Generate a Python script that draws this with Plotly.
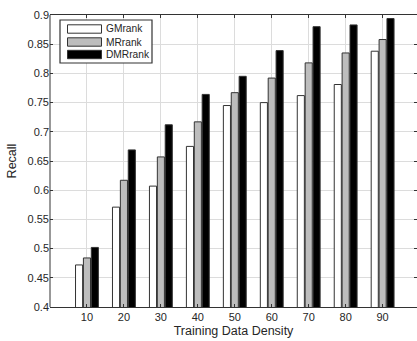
import plotly.graph_objects as go

density = [10, 20, 30, 40, 50, 60, 70, 80, 90]
gmrank = [0.472, 0.571, 0.607, 0.675, 0.745, 0.750, 0.762, 0.781, 0.838]
mrrank = [0.484, 0.617, 0.657, 0.717, 0.767, 0.792, 0.818, 0.835, 0.858]
dmrrank = [0.502, 0.669, 0.712, 0.764, 0.795, 0.839, 0.880, 0.883, 0.894]

series = [
    ("GMrank", gmrank, "#ffffff"),
    ("MRrank", mrrank, "#bdbdbd"),
    ("DMRrank", dmrrank, "#000000"),
]

W, H = 417, 341
ML, MR, MT, MB = 50, 0, 15, 34
PW, PH = W - ML - MR, H - MT - MB


def px(x):
    return (x - ML) / PW


def py(y):
    return 1 - (y - MT) / PH


fig = go.Figure()
for name, vals, color in series:
    fig.add_trace(go.Bar(
        x=density, y=vals, name=name, showlegend=False,
        marker=dict(color=color, line=dict(color="#333333", width=1)),
    ))

edge = "#333333"
shapes = [dict(type="line", xref="paper", yref="paper", x0=0, x1=0, y0=0, y1=1,
               line=dict(color=edge, width=1))]
annotations = []
# legend box
shapes.append(dict(type="rect", xref="paper", yref="paper",
                   x0=px(60), x1=px(152), y0=py(63), y1=py(20),
                   fillcolor="white", line=dict(color=edge, width=1.2), layer="above"))
row_y = [29, 42, 54.5]
for (name, vals, color), ry in zip(series, row_y):
    shapes.append(dict(type="rect", xref="paper", yref="paper",
                       x0=px(67.5), x1=px(101.5), y0=py(ry + 4.2), y1=py(ry - 4.2),
                       fillcolor=color, line=dict(color=edge, width=1), layer="above"))
    annotations.append(dict(xref="paper", yref="paper", x=px(104), y=py(ry),
                            xanchor="left", yanchor="middle", showarrow=False,
                            text=name, font=dict(size=10.2, color="#262626")))

font_family = "Liberation Sans, Arial, sans-serif"
fig.update_layout(
    width=W, height=H,
    margin=dict(l=ML, r=MR, t=MT, b=MB),
    paper_bgcolor="white", plot_bgcolor="white",
    barmode="group", bargap=0.36, bargroupgap=0.1,
    font=dict(family=font_family, size=11, color="#262626"),
    showlegend=False,
    xaxis=dict(
        range=[0, 99.3], tickmode="array", tickvals=density,
        ticktext=[str(d) for d in density],
        showgrid=True, gridcolor="#dcdcdc", gridwidth=1,
        showline=True, linecolor=edge, linewidth=1, mirror="ticks",
        ticks="inside", ticklen=3, tickcolor=edge,
        zeroline=False,
        title=dict(text="Training Data Density", font=dict(size=12.5), standoff=4),
    ),
    yaxis=dict(
        range=[0.4, 0.9], dtick=0.05, tick0=0.4,
        showgrid=True, gridcolor="#dcdcdc", gridwidth=1,
        showline=False, mirror="ticks",
        ticks="inside", ticklen=3, tickcolor=edge,
        zeroline=False,
        title=dict(text="Recall", font=dict(size=12.5), standoff=8),
    ),
    shapes=shapes,
    annotations=annotations,
)

fig.write_html("out.html")
